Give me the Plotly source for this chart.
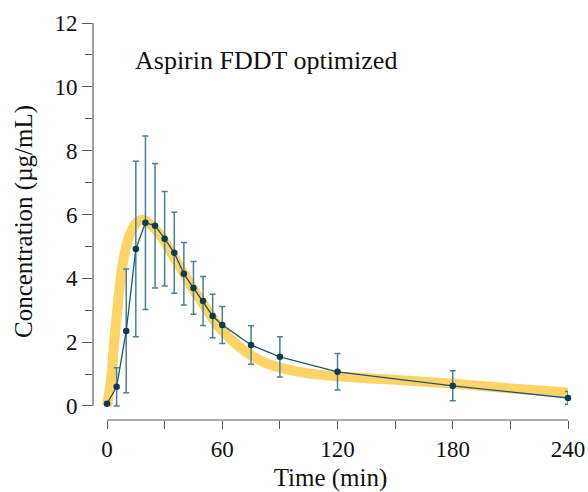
import plotly.graph_objects as go

time_obs = [0, 5, 10, 15, 20, 25, 30, 35, 40, 45, 50, 55, 60, 75, 90, 120, 180, 240]
conc_obs = [0.07, 0.6, 2.35, 4.92, 5.74, 5.65, 5.24, 4.8, 4.14, 3.7, 3.29, 2.82, 2.54, 1.91, 1.54, 1.07, 0.63, 0.25]
conc_err = [0.05, 0.6, 1.94, 2.75, 2.72, 1.95, 1.48, 1.27, 0.98, 0.83, 0.77, 0.68, 0.58, 0.6, 0.63, 0.57, 0.47, 0.2]

time_fit = [0, 2, 4, 6, 8, 10, 12, 15, 18, 20, 25, 30, 35, 40, 45, 50, 55, 60, 70, 80, 90, 105, 120, 150, 180, 210, 240]
conc_fit = [0.0, 0.8, 2.2, 3.4, 4.4, 5.0, 5.4, 5.72, 5.83, 5.8, 5.55, 5.15, 4.65, 4.15, 3.65, 3.2, 2.75, 2.35, 1.8, 1.42, 1.2, 1.02, 0.93, 0.82, 0.70, 0.55, 0.42]

FONT = "Liberation Serif"
AX = "#5a5a5a"
fig = go.Figure()
fig.add_trace(go.Scatter(x=time_fit, y=conc_fit, mode="lines",
                         line=dict(color="#ffd466", width=10, shape="spline"),
                         hoverinfo="skip", cliponaxis=False))
fig.add_trace(go.Scatter(x=time_obs, y=conc_obs, mode="lines+markers",
                         line=dict(color="#1b5a70", width=1.3),
                         marker=dict(color="#0d3b50", size=6.5),
                         error_y=dict(type="data", array=conc_err, color="#4a8096",
                                      thickness=1.5, width=3),
                         cliponaxis=False))

fig.add_shape(type="line", xref="paper", yref="y", x0=0, x1=0, y0=0, y1=12,
              line=dict(color=AX, width=1.2))
fig.add_shape(type="line", xref="x", yref="paper", x0=0, x1=240, y0=0, y1=0,
              line=dict(color=AX, width=1.2))

fig.add_annotation(x=0.085, y=0.905, xref="paper", yref="paper", text="Aspirin FDDT optimized",
                   showarrow=False, xanchor="left", yanchor="middle",
                   font=dict(family=FONT, size=26, color="#111111"))

fig.update_layout(
    width=588, height=492,
    margin=dict(l=93, r=20, t=23, b=72),
    paper_bgcolor="white", plot_bgcolor="white",
    showlegend=False,
    font=dict(family=FONT, size=23, color="#111111"),
    xaxis=dict(range=[-7.3, 240], showgrid=False, zeroline=False, showline=False, automargin=False,
               tickmode="linear", tick0=0, dtick=60, ticks="outside", ticklen=8,
               tickcolor=AX, tickwidth=1.2,
               minor=dict(tick0=0, dtick=30, ticks="outside", ticklen=8, tickcolor=AX, tickwidth=1.2, showgrid=False),
               title=dict(text="Time (min)", standoff=8, font=dict(size=25))),
    yaxis=dict(range=[-0.44, 12], showgrid=False, zeroline=False, showline=False, automargin=False,
               tickmode="linear", tick0=0, dtick=2, ticks="outside", ticklen=10,
               tickcolor=AX, tickwidth=1.2,
               minor=dict(tick0=0, dtick=1, ticks="outside", ticklen=7, tickcolor=AX, tickwidth=1.2, showgrid=False),
               title=dict(text="Concentration (µg/mL)", standoff=14, font=dict(size=25))),
)
fig.write_html("out.html")
